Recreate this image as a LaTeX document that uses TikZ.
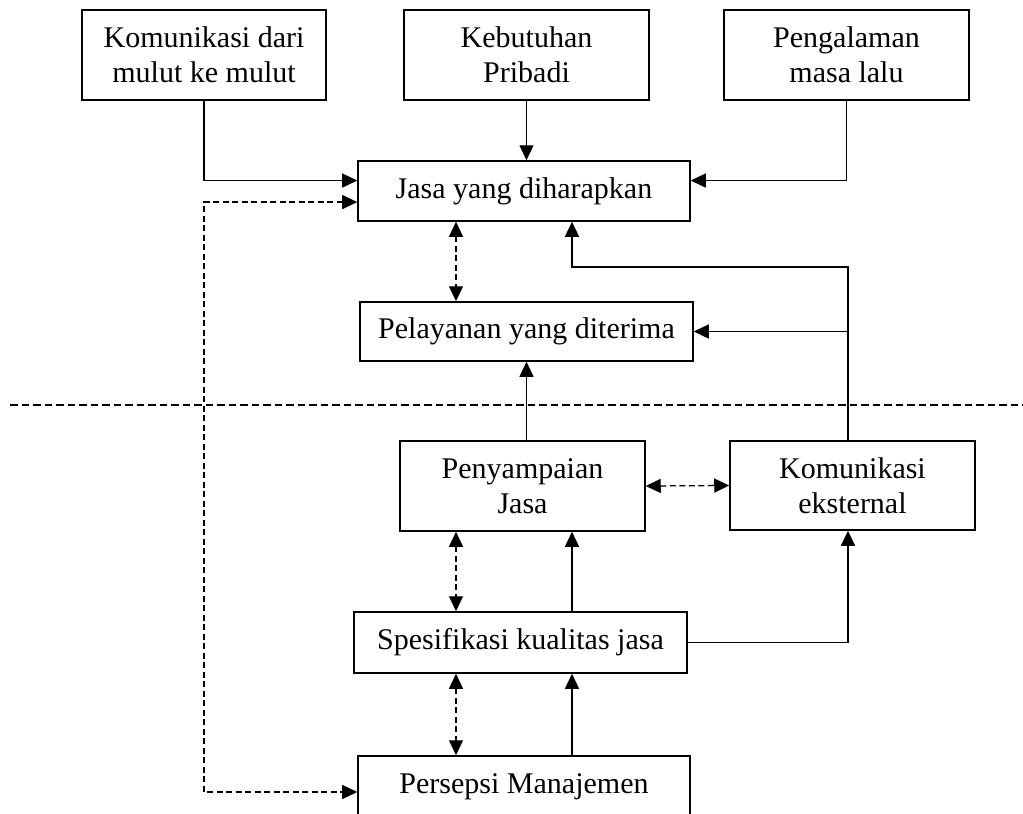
\documentclass[tikz,border=0pt]{standalone}
\usepackage{fontspec}
\setmainfont{Liberation Serif}
\usetikzlibrary{arrows.meta,calc}
\tikzset{
  box/.style={draw, rectangle, line width=0.6pt, align=center, inner sep=2pt, font=\fontsize{12}{14}\selectfont},
  arr/.style={-{Triangle[length=6pt,width=5.6pt]}, line width=0.5pt},
  dasharr/.style={{Triangle[length=6pt,width=5.6pt]}-{Triangle[length=6pt,width=5.6pt]}, line width=0.5pt, dash pattern=on 2.4pt off 1.4pt},
}
\begin{document}
\begin{tikzpicture}[x=0.4pt,y=-0.4pt]
\clip (0,0) rectangle (1023,814);
\node[box, minimum width=97.6pt, minimum height=36pt] (kom) at (204,55){Komunikasi dari\\mulut ke mulut};
\node[box, minimum width=98pt, minimum height=36pt] (keb) at (526.5,55){Kebutuhan\\Pribadi};
\node[box, minimum width=98pt, minimum height=36pt] (peng) at (846.5,55){Pengalaman\\masa lalu};
\node[box, minimum width=132.8pt, minimum height=24pt] (jasa) at (524,191){Jasa yang diharapkan};
\node[box, minimum width=133.2pt, minimum height=23.6pt] (pel) at (526.5,331.5){Pelayanan yang diterima};
\node[box, minimum width=98pt, minimum height=36pt] (peny) at (522.5,486){Penyampaian\\Jasa};
\node[box, minimum width=98pt, minimum height=35.6pt] (eks) at (852.5,485.5){Komunikasi\\eksternal};
\node[box, minimum width=133.2pt, minimum height=24.4pt] (spes) at (520.5,642.5){Spesifikasi kualitas jasa};
\node[box, minimum width=132.8pt, minimum height=24.8pt] (pers) at (524,787){Persepsi Manajemen};
\coordinate (up) at (848,267);
\coordinate (cx) at (572,0);
\coordinate (dx) at (456,0);
\coordinate (sepl) at (10,405);
\coordinate (sepr) at (1023,405);
\draw[line width=0.5pt, dash pattern=on 3pt off 1.6pt] (sepl) -- (sepr);
\draw[arr] (kom.south) |- ($(jasa.north west)!.33!(jasa.south west)$);
\draw[arr] (keb.south) -- (keb.south |- jasa.north);
\draw[arr] (peng.south) |- ($(jasa.north east)!.33!(jasa.south east)$);
\draw[dasharr] ($(jasa.north west)!.68!(jasa.south west)$) -| ($(kom.south |- pers.west)+(0,5)$) -- ($(pers.west)+(0,5)$);
\draw[dasharr] (dx |- jasa.south) -- (dx |- pel.north);
\draw[arr] (up |- eks.north) -- (up) -| (cx |- jasa.south);
\draw[arr] (up |- pel.east) -- (pel.east);
\draw[arr] (pel.south |- peny.north) -- (pel.south);
\draw[dasharr] (peny.east) -- (eks.west);
\draw[dasharr] (dx |- peny.south) -- (dx |- spes.north);
\draw[dasharr] (dx |- spes.south) -- (dx |- pers.north);
\draw[arr] (cx |- spes.north) -- (cx |- peny.south);
\draw[arr] (cx |- pers.north) -- (cx |- spes.south);
\draw[arr] (spes.east) -| (up |- eks.south);
\end{tikzpicture}
\end{document}
